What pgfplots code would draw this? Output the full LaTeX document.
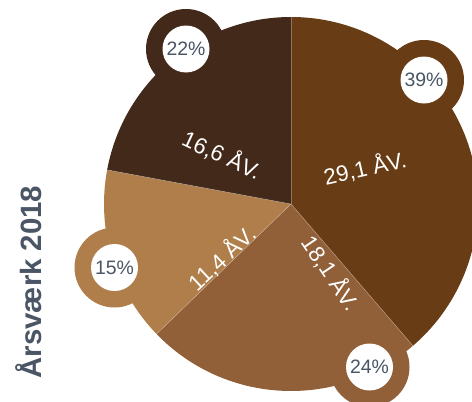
\documentclass[border=0pt]{standalone}
\usepackage{pgfplots}
\pgfplotsset{compat=1.18}
\usepackage{pgfplotstable}
\usepackage{fontspec}
\setmainfont{Liberation Sans}
\definecolor{cA}{HTML}{683C14}
\definecolor{cB}{HTML}{915F38}
\definecolor{cC}{HTML}{AF7E4A}
\definecolor{cD}{HTML}{43291A}
\definecolor{txt}{HTML}{4A5565}
\pgfplotstableread{
val
29.1
18.1
11.4
16.6
}\piedata
\pgfplotstablegetelem{0}{val}\of\piedata\global\let\vA\pgfplotsretval
\pgfplotstablegetelem{1}{val}\of\piedata\global\let\vB\pgfplotsretval
\pgfplotstablegetelem{2}{val}\of\piedata\global\let\vC\pgfplotsretval
\pgfplotstablegetelem{3}{val}\of\piedata\global\let\vD\pgfplotsretval
\pgfmathsetmacro\tot{\vA+\vB+\vC+\vD}
\pgfmathsetmacro\sA{90}
\pgfmathsetmacro\sB{\sA-360*\vA/\tot}
\pgfmathsetmacro\sC{\sB-360*\vB/\tot}
\pgfmathsetmacro\sD{\sC-360*\vC/\tot}
\pgfmathsetmacro\sE{\sD-360*\vD/\tot}
\pgfmathsetmacro\pA{round(100*\vA/\tot)}
\pgfmathsetmacro\pB{round(100*\vB/\tot)}
\pgfmathsetmacro\pC{round(100*\vC/\tot)}
\pgfmathsetmacro\pD{round(100*\vD/\tot)}
\def\R{187}
\newcommand\lab[1]{\pgfmathprintnumber[fixed,fixed zerofill,precision=1,use comma,assume math mode=true]{#1}~ÅV.}
\newcommand\pct[1]{\pgfmathprintnumber[fixed,precision=0,assume math mode=true]{#1}\%}
\begin{document}
\begin{tikzpicture}
\begin{axis}[x=1bp, y=1bp, xmin=-291, xmax=181, ymin=-197, ymax=204,
  hide axis, clip=true]
\addplot[draw=none] coordinates {(0,0)};
\coordinate (SW) at (axis cs:-291,-197);
\coordinate (NE) at (axis cs:181,204);
% slices
\fill[cA] (axis cs:0,0) -- ++(\sA:\R bp) arc[start angle=\sA, end angle=\sB, radius=\R bp] -- cycle;
\fill[cB] (axis cs:0,0) -- ++(\sB:\R bp) arc[start angle=\sB, end angle=\sC, radius=\R bp] -- cycle;
\fill[cC] (axis cs:0,0) -- ++(\sC:\R bp) arc[start angle=\sC, end angle=\sD, radius=\R bp] -- cycle;
\fill[cD] (axis cs:0,0) -- ++(\sD:\R bp) arc[start angle=\sD, end angle=\sE, radius=\R bp] -- cycle;
% separators
\draw[white, opacity=0.3, line width=0.6bp] (axis cs:0,0) -- ++(\sA:\R bp);
\draw[white, opacity=0.3, line width=0.6bp] (axis cs:0,0) -- ++(\sB:\R bp);
\draw[white, opacity=0.3, line width=0.6bp] (axis cs:0,0) -- ++(\sC:\R bp);
\draw[white, opacity=0.3, line width=0.6bp] (axis cs:0,0) -- ++(\sD:\R bp);
% bubbles
\fill[cA] (axis cs:133,124) circle[radius=40bp];
\fill[white] (axis cs:133,124) circle[radius=23.5bp];
\node[txt, font=\fontsize{19.5}{19.5}\selectfont] at (axis cs:133,124) {\pct{\pA}};
\fill[cB] (axis cs:78.5,-163) circle[radius=40bp];
\fill[white] (axis cs:78.5,-163) circle[radius=23.5bp];
\node[txt, font=\fontsize{19.5}{19.5}\selectfont] at (axis cs:78.5,-163) {\pct{\pB}};
\fill[cC] (axis cs:-176.5,-63.5) circle[radius=40bp];
\fill[white] (axis cs:-176.5,-63.5) circle[radius=23.5bp];
\node[txt, font=\fontsize{19.5}{19.5}\selectfont] at (axis cs:-176.5,-63.5) {\pct{\pC}};
\fill[cD] (axis cs:-105,155) circle[radius=40bp];
\fill[white] (axis cs:-105,155) circle[radius=23.5bp];
\node[txt, font=\fontsize{19.5}{19.5}\selectfont] at (axis cs:-105,155) {\pct{\pD}};
% value labels
\node[white, rotate=13, font=\fontsize{22.5}{22.5}\selectfont] at (axis cs:74,36) {\lab{\vA}};
\node[white, rotate=-56, font=\fontsize{22.5}{22.5}\selectfont] at (axis cs:40,-69) {\lab{\vB}};
\node[white, rotate=43, font=\fontsize{22.5}{22.5}\selectfont] at (axis cs:-69,-54) {\lab{\vC}};
\node[white, rotate=-25, font=\fontsize{22.5}{22.5}\selectfont] at (axis cs:-69,49) {\lab{\vD}};
% title
\node[txt, rotate=90, font=\bfseries\fontsize{29.5}{29.5}\selectfont] at (axis cs:-262,-78) {Årsværk 2018};
\end{axis}
\pgfresetboundingbox
\path[use as bounding box] (SW) rectangle (NE);
\end{tikzpicture}
\end{document}
